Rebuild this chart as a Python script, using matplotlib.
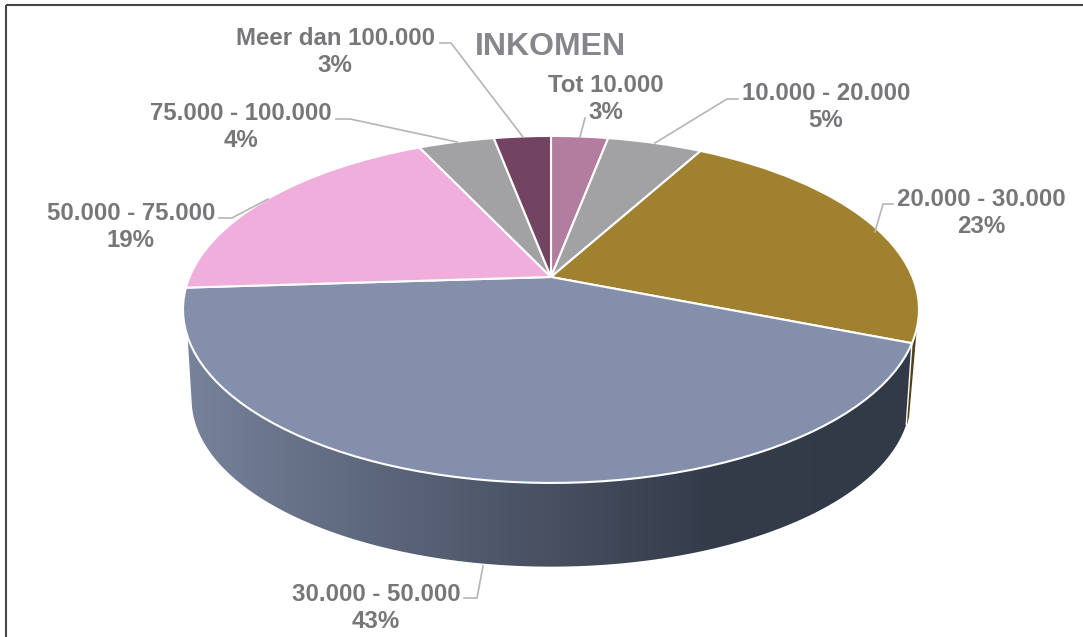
import numpy as np
import matplotlib
matplotlib.use("Agg")
import matplotlib.pyplot as plt
from matplotlib.transforms import Transform
from matplotlib.colors import LinearSegmentedColormap
from matplotlib.patches import Polygon

title = "INKOMEN"
categories = ["Tot 10.000", "10.000 - 20.000", "20.000 - 30.000", "30.000 - 50.000",
              "50.000 - 75.000", "75.000 - 100.000", "Meer dan 100.000"]
percentages = [3, 5, 23, 43, 19, 4, 3]
colors = ["#b27d9e", "#a2a2a4", "#9f812f", "#8490ab", "#efaedb", "#a2a2a4", "#734462"]

label_pos = [(606, 99), (826, 107), (981, 213), (376, 608), (131, 227), (241, 127), (335, 52)]
leaders = [
    [(585, 118), (580, 137)],
    [(738, 99), (727, 99), (655, 143)],
    [(893, 204), (883, 204), (875, 232)],
    [(464, 598), (477, 598), (483, 566)],
    [(219, 218), (232, 218), (268, 199)],
    [(336, 119), (350, 119), (457, 142)],
    [(440, 43), (451, 43), (523, 137)],
]

plt.rcParams["font.family"] = ["Liberation Sans", "DejaVu Sans"]


class Perspective(Transform):
    """Maps the unit-circle pie onto a tilted disc in pixel coordinates."""
    input_dims = 2
    output_dims = 2

    def __init__(self, cx, cy, k, a, c):
        super().__init__()
        self.p = (cx, cy, k, a, c)

    def transform_non_affine(self, xy):
        cx, cy, k, a, c = self.p
        xy = np.asarray(xy, float)
        w = 1 + c * xy[:, 1]
        return np.column_stack([cx + k * xy[:, 0] / w, cy - a * xy[:, 1] / w])


fig = plt.figure(figsize=(10.83, 6.37), dpi=100)
ax = fig.add_axes([0, 0, 1, 1])

top = Perspective(551, 277, 361.5, 167.4, 0.187)
low = Perspective(551, 368, 353, 161.5, 0.187)

wedges, _ = ax.pie(percentages, colors=colors, startangle=90, counterclock=False,
                   wedgeprops=dict(edgecolor="white", linewidth=1.5, zorder=5))
for w in wedges:
    w.set_transform(top + ax.transData)

ax.set_aspect("auto")
ax.set_xlim(0, 1083)
ax.set_ylim(637, 0)
ax.axis("off")

# side wall of the front slice
edges = 90 - 3.6 * np.cumsum([0] + percentages)


def ring(tr, a0, a1, n=200):
    t = np.radians(np.linspace(a0, a1, n))
    return tr.transform_non_affine(np.column_stack([np.cos(t), np.sin(t)]))


# thin visible side of the brown slice
brown = np.vstack([ring(top, edges[3] + 3.5, edges[3]), ring(low, edges[3] + 2.5, edges[3] + 5)])
ax.add_patch(Polygon(brown, closed=True, facecolor="#4f4218", edgecolor="#4f4218", lw=1, zorder=2))

wall = np.vstack([ring(top, edges[3], edges[4] + 16), ring(low, edges[4] + 9, edges[3] + 2.5)])
patch = Polygon(wall, closed=True, facecolor="none", edgecolor="none", zorder=3)
ax.add_patch(patch)
cmap = LinearSegmentedColormap.from_list("wall", [
    (0.0, "#76839b"), (0.16, "#667187"), (0.44, "#4d5568"), (0.72, "#343b49"), (1.0, "#333a47")])
im = ax.imshow(np.linspace(0, 1, 512)[None, :], cmap=cmap, extent=(185, 915, 600, 250),
               aspect="auto", zorder=3)
im.set_clip_path(patch)
ax.set_xlim(0, 1083)
ax.set_ylim(637, 0)

# white seam on the front wall at the right side
ax.plot([wall[0, 0], wall[-1, 0]], [wall[0, 1], wall[-1, 1]], color="white", lw=1, zorder=4)

for name, pct, (x, y), pts in zip(categories, percentages, label_pos, leaders):
    ax.text(x, y, f"{name}\n{pct}%", ha="center", va="center", fontsize=17.3,
            fontweight="bold", color="#77777b", linespacing=1.25, zorder=8)
    px, py = zip(*pts)
    ax.plot(px, py, color="#b5b5b5", lw=1.2, zorder=7)

ax.text(550, 47, title, ha="center", va="center", fontsize=23, fontweight="bold",
        color="#87868c", zorder=8)

# frame: top and left edge only
ax.plot([6, 1083], [5, 5], color="#454545", lw=1.5, zorder=9, solid_capstyle="butt")
ax.plot([6, 6], [5, 637], color="#454545", lw=1.5, zorder=9, solid_capstyle="butt")

fig.savefig("out.png", dpi=100)
